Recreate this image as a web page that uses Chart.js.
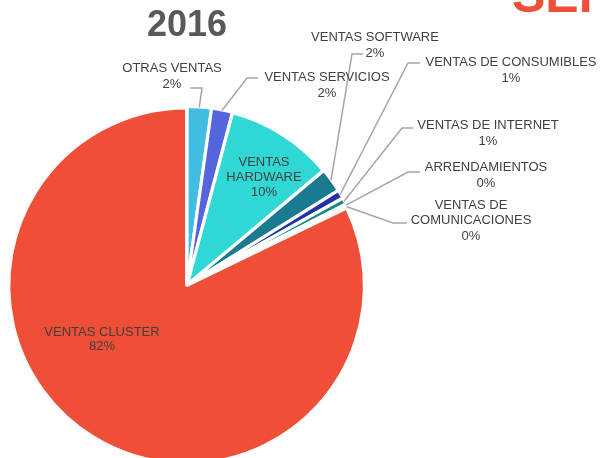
<!DOCTYPE html>
<html>
<head>
<meta charset="utf-8">
<script src="https://cdn.jsdelivr.net/npm/chart.js@4/dist/chart.umd.min.js"></script>
<style>
  html, body { margin: 0; padding: 0; background: #fff; overflow: hidden; }
  #wrap { position: absolute; left: 0; top: 0; width: 601px; height: 480px; }
</style>
</head>
<body>
<div id="wrap"><canvas id="pieChart"></canvas></div>
<script>
// datos del grafico 2016
const categories = [
    'OTRAS VENTAS', 'VENTAS SERVICIOS', 'VENTAS HARDWARE', 'VENTAS SOFTWARE',
    'VENTAS DE CONSUMIBLES', 'VENTAS DE INTERNET', 'ARRENDAMIENTOS',
    'VENTAS DE COMUNICACIONES', 'VENTAS CLUSTER'
];
const shares = [2.2, 1.9, 9.8, 2.2, 0.8, 0.6, 0.2, 0.1, 82.2];
const sliceColors = [
    '#41bde0', '#5565dc', '#2fd8d4', '#1a7b90',
    '#2233a8', '#178a7c', '#9aa8f0', '#c9def0', '#ef4e37'
];
const chartTitle = '2016';

// posicion de etiquetas (texto) y lineas guia
const labelLayout = [
    {lines: ['OTRAS VENTAS'], x: 172, y: 68, elbow: [202, 88], end: [190, 88]},
    {lines: ['VENTAS SERVICIOS'], x: 327, y: 77, elbow: [247, 78], end: [258, 78]},
    {lines: ['VENTAS', 'HARDWARE'], x: 264, y: 162, step: 15},
    {lines: ['VENTAS SOFTWARE'], x: 375, y: 37, elbow: [352, 54], end: [363, 54]},
    {lines: ['VENTAS DE CONSUMIBLES'], x: 511, y: 62, elbow: [408, 63], end: [420, 63]},
    {lines: ['VENTAS DE INTERNET'], x: 488, y: 125, elbow: [402, 128], end: [413, 128]},
    {lines: ['ARRENDAMIENTOS'], x: 486, y: 167, elbow: [408, 172], end: [420, 172]},
    {lines: ['VENTAS DE', 'COMUNICACIONES'], x: 471, y: 205, step: 15.5, elbow: [393, 223], end: [407, 223]},
    {lines: ['VENTAS CLUSTER'], x: 102, y: 332, step: 14}
];

const total = shares.reduce((a, b) => a + b, 0);

const labelPlugin = {
    id: 'pieLabels',
    afterDraw(chart) {
        const ctx = chart.ctx;
        const arcs = chart.getDatasetMeta(0).data;
        ctx.save();

        // lineas guia
        ctx.strokeStyle = '#a6a6a6';
        ctx.lineWidth = 1.5;
        arcs.forEach((arc, i) => {
            const lay = labelLayout[i];
            if (!lay.elbow) return;
            const p = arc.getProps(['x', 'y', 'startAngle', 'endAngle', 'outerRadius'], true);
            const mid = (p.startAngle + p.endAngle) / 2;
            const r = p.outerRadius + 1;
            ctx.beginPath();
            ctx.moveTo(p.x + Math.cos(mid) * r, p.y + Math.sin(mid) * r);
            ctx.lineTo(lay.elbow[0], lay.elbow[1]);
            ctx.lineTo(lay.end[0], lay.end[1]);
            ctx.stroke();
        });

        // textos
        ctx.fillStyle = '#404040';
        ctx.font = '13px "Liberation Sans", Arial, sans-serif';
        ctx.textAlign = 'center';
        ctx.textBaseline = 'middle';
        labelLayout.forEach((lay, i) => {
            const step = lay.step || 16;
            const pct = Math.round(shares[i] / total * 100) + '%';
            const lines = lay.lines.concat([pct]);
            lines.forEach((t, k) => ctx.fillText(t, lay.x, lay.y + k * step));
        });

        // titulo
        ctx.fillStyle = '#595959';
        ctx.font = 'bold 36px "Liberation Sans", Arial, sans-serif';
        ctx.textBaseline = 'alphabetic';
        ctx.fillText(chartTitle, 187, 36);

        // logo cortado arriba a la derecha
        ctx.fillStyle = '#ef4e37';
        ctx.font = 'bold 50px "Liberation Sans", Arial, sans-serif';
        ctx.textAlign = 'left';
        ctx.fillText('SEI', 512, 12);
        ctx.restore();
    }
};

new Chart(document.getElementById('pieChart'), {
    type: 'pie',
    data: {
        labels: categories,
        datasets: [{
            data: shares,
            backgroundColor: sliceColors,
            borderColor: '#ffffff',
            borderWidth: 3,
            offset: 3
        }]
    },
    options: {
        responsive: true,
        maintainAspectRatio: false,
        animation: false,
        layout: {padding: {left: 7, right: 234, top: 105, bottom: 15}},
        plugins: {
            legend: {display: false},
            tooltip: {enabled: false}
        }
    },
    plugins: [labelPlugin]
});
</script>
</body>
</html>
